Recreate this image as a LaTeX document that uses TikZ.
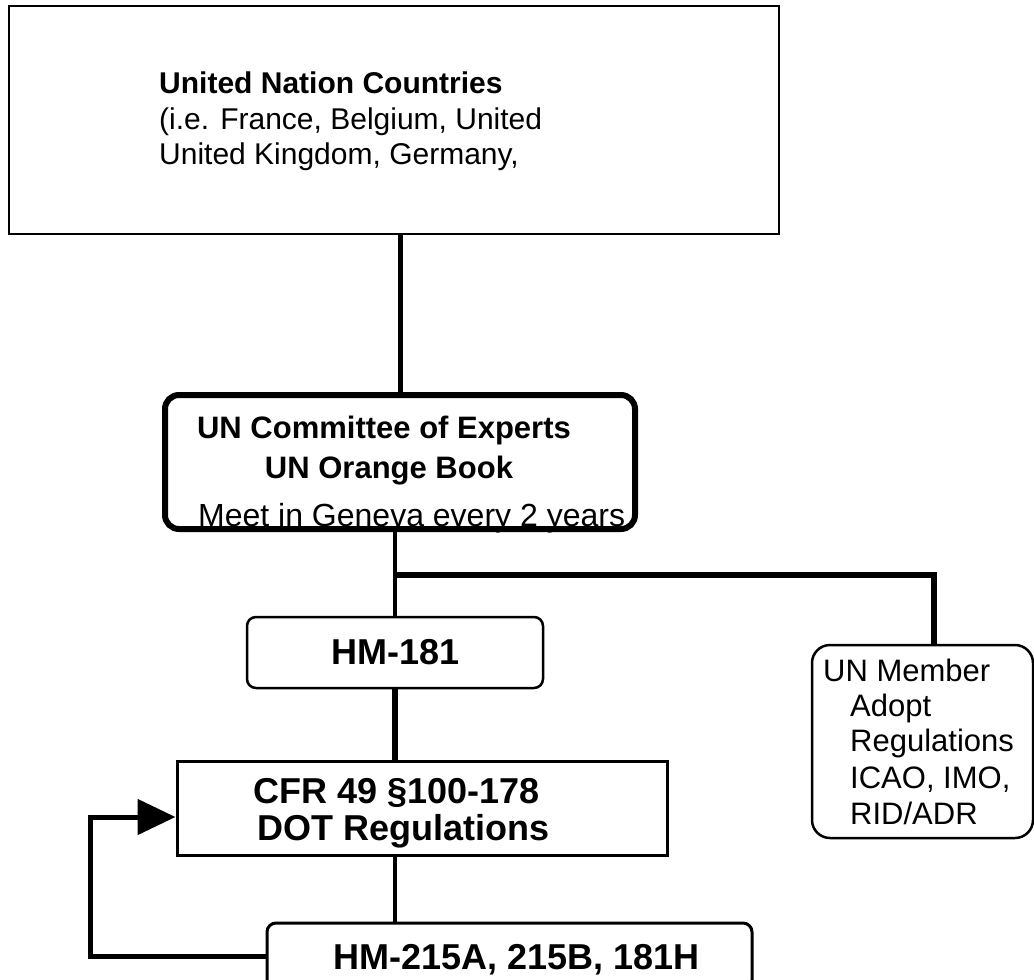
\documentclass[tikz,border=0pt]{standalone}
\usepackage{fontspec}
\setmainfont{Liberation Sans}
\usetikzlibrary{arrows.meta,calc}
\begin{document}
\begin{tikzpicture}[x=1pt,y=-1pt,
  box/.style={draw,line width=2.5pt,inner sep=0pt},
  conn/.style={line width=5pt},
  txt/.style={inner sep=0pt,anchor=base west},
  ctxt/.style={inner sep=0pt,anchor=base},
  fA/.style={font=\fontsize{30}{35}\selectfont},
  fB/.style={font=\fontsize{31}{36}\selectfont},
  fC/.style={font=\fontsize{36}{40}\selectfont\bfseries}]
\useasboundingbox (0,0) rectangle (1034,980);
% boxes
\node[box,minimum width=770pt,minimum height=228pt] (topbox) at (394,120) {};
\node[box,line width=6pt,rounded corners=14pt,minimum width=470pt,minimum height=134pt] (midbox) at (400,462) {};
\node[box,rounded corners=9pt,minimum width=296pt,minimum height=71pt] (hm181) at (395,652.5) {};
\node[box,line width=3pt,minimum width=490pt,minimum height=94pt] (cfr) at (422,808) {};
\node[box,line width=3pt,rounded corners=9pt,minimum width=485pt,minimum height=66pt] (hm215) at (509.5,956) {};
\node[box,rounded corners=18pt,minimum width=221pt,minimum height=193pt] (un) at (922.5,741.5) {};
% texts
\node[txt,fA,font=\fontsize{30}{35}\selectfont\bfseries] (t1) at (159,93) {United Nation Countries};
\node[txt,fA] (t2) at (159,129) {(i.e. France, Belgium, United};
\node[txt,fA] (t3) at (159,164) {United Kingdom, Germany,};
\node[ctxt,font=\fontsize{31}{36}\selectfont\bfseries] (m1) at (384,438) {UN Committee of Experts};
\node[ctxt,font=\fontsize{31}{36}\selectfont\bfseries] (m2) at (389,478) {UN Orange Book};
\node[txt,font=\fontsize{32}{36}\selectfont] (m3) at (198,526) {Meet in Geneva every 2 years};
\node[ctxt,fC] (h1) at (396,664) {HM-181};
\node[txt,fC] (c1) at (253,803) {CFR 49 §100-178};
\node[txt,fC] (c2) at (257,840) {DOT Regulations};
\node[txt,fC] (h2) at (333,969) {HM-215A, 215B, 181H};
\node[txt,fB] (u1) at (823,681) {UN Member};
\node[txt,fB] (u2) at (850,716) {Adopt};
\node[txt,fB] (u3) at (850,751) {Regulations};
\node[txt,fB] (u4) at (850,788) {ICAO, IMO,};
\node[txt,fB] (u5) at (850,824) {RID/ADR};
% connectors
\draw[conn] (topbox.south -| midbox.north) -- (midbox.north);
\draw[line width=4pt] (hm181.north |- midbox.south) -- (hm181.north);
\coordinate (br) at ($(hm181.north)+(0,-41)$);
\draw[line width=5.5pt] (br) -| ([xshift=11.5pt]un.north);
\draw[line width=6pt] (hm181.south) -- (hm181.south |- cfr.north);
\draw[line width=4pt] (hm181.south |- cfr.south) -- (hm181.south |- hm215.north);
\draw[conn,-{Triangle[length=38pt,width=35pt]}] (hm215.west) -- ++(-175,0) |- ($(cfr.west)+(0,9)$);
\end{tikzpicture}
\end{document}
